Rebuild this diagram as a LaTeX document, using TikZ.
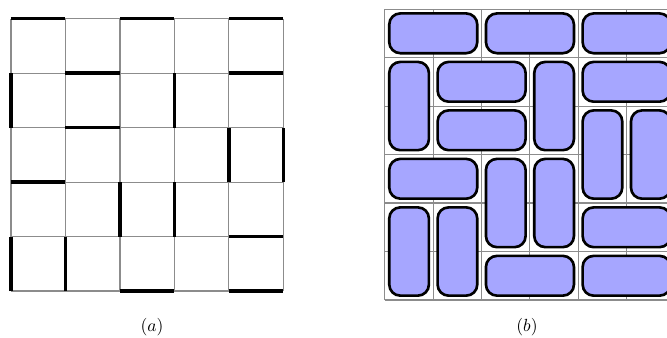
\documentclass[tikz,border=0pt]{standalone}
\usepackage{xcolor}
\usepackage{tikz}
\usetikzlibrary{positioning}
\definecolor{dmFill}{HTML}{A6A6FF}
\definecolor{dmGrid}{HTML}{8C8C8C}
\definecolor{dmInk}{HTML}{000000}

\begin{document}
\begin{tikzpicture}[
  x=0.02cm, y=0.02cm,
  gridline/.style={draw=dmGrid, line width=0.6pt},
  wall/.style={draw=dmInk, line width=2.2pt},
  domino/.style={draw=dmInk, line width=1.5pt, fill=dmFill, rounded corners=0.22cm},
  caption/.style={font=\normalsize, inner sep=1pt},
]
\useasboundingbox (0,0) rectangle (667,338);

% ── (a): 5x5 grid with thick walls ───────────────────────────────────────────
\begin{scope}[shift={(0.22cm,0.94cm)}, x=1.09cm, y=1.09cm]
  \draw[gridline, step=1] (0,0) grid (5,5);
  % horizontal walls (column / line)
  \foreach \c/\r in {0/5,2/5,4/5,1/4,4/4,1/3,0/2,4/1,2/0,4/0}{ \draw[wall] (\c,\r) -- ++(1,0); }
  % vertical walls (line / row)
  \foreach \c/\r in {0/3,3/3,4/2,5/2,2/1,3/1,0/0,1/0}{ \draw[wall] (\c,\r) -- ++(0,1); }
\end{scope}

% ── (b): 6x6 grid tiled with dominoes ────────────────────────────────────────
\begin{scope}[shift={(7.70cm,0.76cm)}, x=0.967cm, y=0.97cm]
  \draw[gridline, step=1] (0,0) grid (6,6);
  \foreach \c/\r/\w/\h in {0/5/2/1, 2/5/2/1, 4/5/2/1,
                           0/3/1/2, 1/4/2/1, 3/3/1/2, 4/4/2/1,
                           1/3/2/1, 4/2/1/2, 5/2/1/2,
                           0/2/2/1, 2/1/1/2, 3/1/1/2,
                           0/0/1/2, 1/0/1/2, 4/1/2/1,
                           2/0/2/1, 4/0/2/1}{
    \draw[domino] (\c+0.09,\r+0.09) rectangle (\c+\w-0.09,\r+\h-0.09);
  }
\end{scope}

% ── Captions ─────────────────────────────────────────────────────────────────
\node[caption] (capa) at (152,11) {$(a)$};
\node[caption] (capb) at (527,11) {$(b)$};

\end{tikzpicture}
\end{document}
